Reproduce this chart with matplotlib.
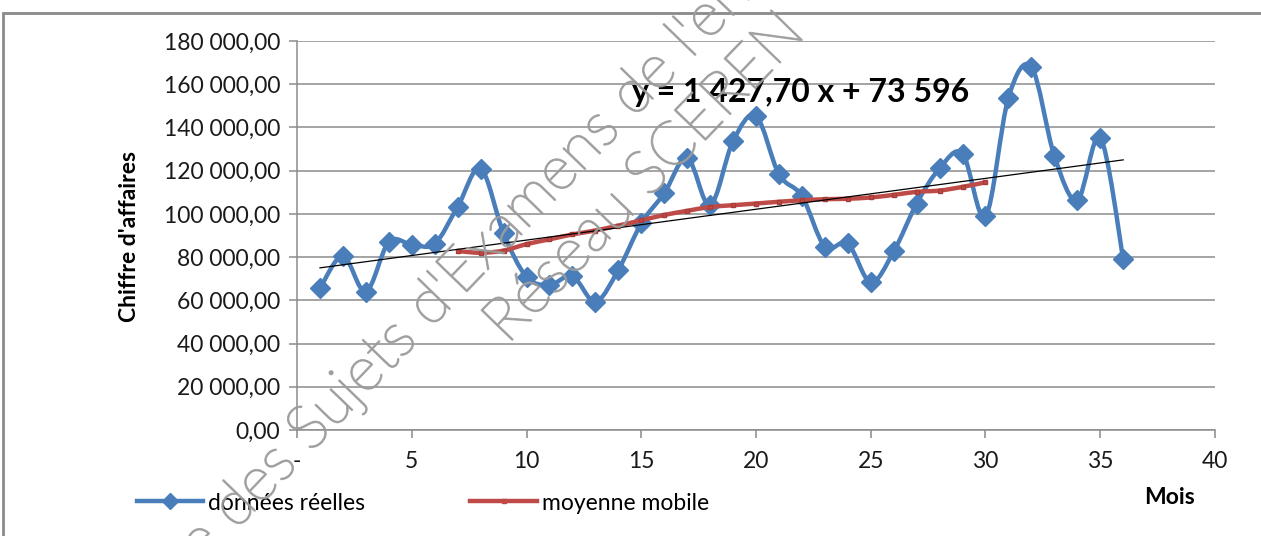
import numpy as np
import matplotlib.pyplot as plt
import matplotlib.patheffects as pe
from matplotlib.path import Path
from matplotlib.patches import PathPatch, Rectangle
from matplotlib.lines import Line2D
from matplotlib.ticker import FuncFormatter

plt.rcParams['font.family'] = ['Lato', 'DejaVu Sans']

# données
mois = list(range(1, 37))
ca = [65500, 80500, 64000, 87000, 85800, 86200, 103300, 121000, 91000, 70900,
      67100, 71200, 59400, 74000, 95600, 109500, 126000, 104000, 133700, 145300,
      118300, 108300, 84800, 86300, 68300, 82600, 104800, 121100, 127900, 98800,
      153800, 168000, 126800, 106300, 135300, 79200]
mois_mm = list(range(7, 31))
mm = [82800, 82000, 83000, 86000, 88200, 90500, 92300, 94600, 97000, 99500,
      101400, 103200, 104000, 104800, 105600, 106300, 106800, 107000, 107600, 108800,
      110200, 110800, 112500, 114600]
pente = 1427.70
origine = 73596
equation = "y = 1 427,70 x + 73 596"

blue = '#4a7ebb'
red = '#be4b48'
grid_col = '#8c8c8c'


def smooth_path(xs, ys):
    # courbe lissée façon tableur (bezier passant par les points)
    xs = np.asarray(xs, float)
    ys = np.asarray(ys, float)
    n = len(xs)
    verts = [(xs[0], ys[0])]
    codes = [Path.MOVETO]
    for i in range(n - 1):
        i0 = max(i - 1, 0)
        i3 = min(i + 2, n - 1)
        c1 = (xs[i] + (xs[i + 1] - xs[i0]) / 6, ys[i] + (ys[i + 1] - ys[i0]) / 6)
        c2 = (xs[i + 1] - (xs[i3] - xs[i]) / 6, ys[i + 1] - (ys[i3] - ys[i]) / 6)
        verts += [c1, c2, (xs[i + 1], ys[i + 1])]
        codes += [Path.CURVE4] * 3
    return Path(verts, codes)


fig = plt.figure(figsize=(12.61, 5.36), dpi=100)
ax = fig.add_axes([297 / 1261, 1 - 430 / 536, (1215 - 297) / 1261, (430 - 41) / 536])

# cadre du graphique
fig.patches.append(Rectangle((3 / 1261, -0.2), 1.2, 1.2 - 13 / 536,
                             transform=fig.transFigure, fill=False,
                             edgecolor='#8a8a8a', linewidth=2.0))

ax.set_xlim(0, 40)
ax.set_ylim(0, 180000)
ax.set_yticks(np.arange(0, 180001, 20000))
ax.set_xticks(np.arange(0, 41, 5))
ax.yaxis.set_major_formatter(FuncFormatter(
    lambda v, p: ('{:,.2f}'.format(v)).replace(',', ' ').replace('.', ',')))
ax.xaxis.set_major_formatter(FuncFormatter(lambda v, p: '-' if v == 0 else '%d' % v))
ax.grid(axis='y', color=grid_col, linewidth=1.1)
ax.set_axisbelow(True)
for s in ['top', 'right']:
    ax.spines[s].set_visible(False)
for s in ['left', 'bottom']:
    ax.spines[s].set_color(grid_col)
    ax.spines[s].set_linewidth(1.1)
ax.tick_params(axis='both', direction='out', length=6, color=grid_col, width=1.1,
               labelsize=16.5, colors='#1a1a1a')
ax.tick_params(axis='x', pad=9)
ax.tick_params(axis='y', pad=6)

# courbe des données
ax.add_patch(PathPatch(smooth_path(mois, ca), facecolor='none', edgecolor=blue,
                       linewidth=3.2, zorder=3, capstyle='round', joinstyle='round'))
ax.plot(mois, ca, linestyle='none', marker='D', markersize=10, color=blue, zorder=4)

# moyenne mobile
ax.add_patch(PathPatch(smooth_path(mois_mm, mm), facecolor='none', edgecolor=red,
                       linewidth=3.2, zorder=5))
ax.plot(mois_mm, mm, linestyle='none', marker='s', markersize=3.5, color=red,
        markeredgecolor='#a83c39', zorder=5)

# tendance linéaire
xt = np.array([mois[0], mois[-1]])
ax.plot(xt, pente * xt + origine, color='black', linewidth=0.9, zorder=6)

ax.text(14.6, 156000, equation, fontsize=23, fontweight='bold', va='center',
        ha='left', zorder=7)

fig.text(130 / 1261, 1 - 236 / 536, "Chiffre d'affaires", rotation=90, fontsize=16.5,
         fontweight='bold', ha='center', va='center')
fig.text(1169 / 1261, 1 - 498 / 536, "Mois", fontsize=16.5, fontweight='bold',
         ha='center', va='center')

handles = [Line2D([], [], color=blue, linewidth=3.2, marker='D', markersize=8),
           Line2D([], [], color=red, linewidth=3.2, marker='s', markersize=3)]
fig.legend(handles, ['données réelles', 'moyenne mobile'], loc='center left',
           bbox_to_anchor=(137 / 1261, 1 - 503 / 536), ncol=2, frameon=False,
           fontsize=16.5, handlelength=2.9, handletextpad=0.2, columnspacing=4.6,
           borderpad=0, borderaxespad=0)

# filigrane
wm = dict(fontsize=44, color='#9c9c9c', alpha=0.85, rotation=46,
          rotation_mode='anchor', ha='center', va='center', fontweight='light',
          zorder=20, path_effects=[pe.withStroke(linewidth=1.3, foreground='#9c9c9c')])
fig.text(572 / 1261, 1 - 158 / 536,
         "Base Nationale des Sujets d'Examens de l'enseignement professionnel", **wm)
fig.text(645 / 1261, 1 - 178 / 536, "Réseau SCEREN", **wm)

fig.savefig('out.png', dpi=100)
